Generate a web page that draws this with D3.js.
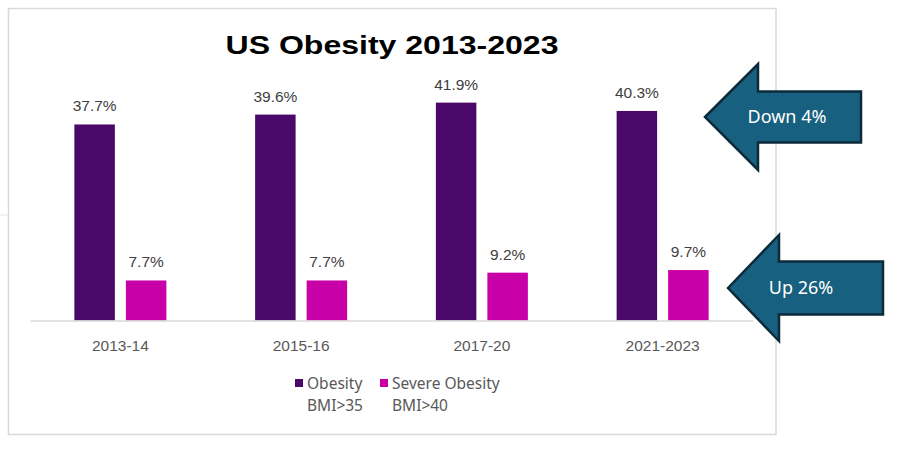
<!DOCTYPE html>
<html>
<head>
<meta charset="utf-8">
<script src="https://cdn.jsdelivr.net/npm/d3@7"></script>
<style>
  html, body { margin: 0; padding: 0; background: #fff; }
  svg { display: block; }
</style>
</head>
<body>
<svg id="chart"></svg>
<script>
// Data
const periods = ['2013-14', '2015-16', '2017-20', '2021-2023'];
const seriesNames = ['Obesity', 'Severe Obesity'];
const seriesSub = ['BMI>35', 'BMI>40'];
const obesity = [37.7, 39.6, 41.9, 40.3];
const severeObesity = [7.7, 7.7, 9.2, 9.7];
const callouts = ['Down 4%', 'Up 26%'];

const colors = ['#4b086b', '#c800a8'];
const width = 919, height = 451;

const svg = d3.select('#chart')
    .attr('width', width)
    .attr('height', height);

// chart frame
svg.append('rect')
    .attr('x', 8.5).attr('y', 8.5)
    .attr('width', 767.5).attr('height', 426)
    .attr('fill', 'none')
    .attr('stroke', '#d9d9d9')
    .attr('stroke-width', 1.5);

svg.append('line')
    .attr('x1', 0).attr('x2', 8)
    .attr('y1', 215).attr('y2', 215)
    .attr('stroke', '#e3e3e3')
    .attr('stroke-width', 1);

// Title
svg.append('text')
    .attr('x', 392).attr('y', 54)
    .attr('text-anchor', 'middle')
    .attr('font-family', 'Liberation Sans, Arial, sans-serif')
    .attr('font-weight', 'bold')
    .attr('font-size', 26.5)
    .attr('textLength', 333)
    .attr('lengthAdjust', 'spacingAndGlyphs')
    .attr('fill', '#000')
    .text('US Obesity 2013-2023');

// Scales
const x0 = d3.scaleBand()
    .domain(periods)
    .range([30, 753]);

const x1 = d3.scaleBand()
    .domain(seriesNames)
    .range([0, 92])
    .paddingInner(0.214);

const y = d3.scaleLinear()
    .domain([0, 45])
    .range([320.5, 86.5]);

const rows = periods.map((p, i) => ({
    period: p,
    values: [obesity[i], severeObesity[i]]
}));

const groups = svg.append('g')
    .selectAll('g')
    .data(rows)
    .join('g')
    .attr('transform', d => `translate(${x0(d.period) + (x0.bandwidth() - 92) / 2},0)`);

groups.selectAll('rect')
    .data(d => d.values.map((v, j) => ({ name: seriesNames[j], value: v, j })))
    .join('rect')
    .attr('x', d => x1(d.name))
    .attr('y', d => y(d.value))
    .attr('width', x1.bandwidth())
    .attr('height', d => y(0) - y(d.value))
    .attr('fill', d => colors[d.j]);

groups.selectAll('text')
    .data(d => d.values.map((v, j) => ({ name: seriesNames[j], value: v })))
    .join('text')
    .attr('x', d => x1(d.name) + x1.bandwidth() / 2)
    .attr('y', d => y(d.value) - 13)
    .attr('text-anchor', 'middle')
    .attr('font-family', 'Liberation Sans, Arial, sans-serif')
    .attr('font-size', 15.5)
    .attr('fill', '#404040')
    .text(d => d.value.toFixed(1) + '%');

// Axis
const xAxis = svg.append('g')
    .attr('transform', `translate(0,${y(0)})`)
    .call(d3.axisBottom(x0).tickSize(0).tickPadding(19));

xAxis.select('.domain')
    .attr('stroke', '#d9d9d9')
    .attr('stroke-width', 1.5);

xAxis.selectAll('text')
    .attr('font-family', 'Liberation Sans, Arial, sans-serif')
    .attr('font-size', 15.5)
    .attr('fill', '#595959');

// Legend
const legendX = [295, 380];
const legend = svg.append('g')
    .selectAll('g')
    .data(seriesNames)
    .join('g')
    .attr('transform', (d, i) => `translate(${legendX[i]},0)`);

legend.append('rect')
    .attr('x', 0).attr('y', 379)
    .attr('width', 8).attr('height', 8)
    .attr('fill', (d, i) => colors[i]);

legend.append('text')
    .attr('x', 12).attr('y', 388.5)
    .attr('font-family', 'Noto Sans, sans-serif')
    .attr('font-size', 15.5)
    .attr('fill', '#595959')
    .text(d => d);

legend.append('text')
    .attr('x', 12).attr('y', 410.5)
    .attr('font-family', 'Noto Sans, sans-serif')
    .attr('font-size', 15.5)
    .attr('fill', '#595959')
    .text((d, i) => seriesSub[i]);

// Callout arrows (left-pointing block arrows)
const arrowShapes = [
    { tip: [705, 117], headX: 758, headHalf: 53, shaftHalf: 25.5, right: 861, textX: 787 },
    { tip: [728, 288], headX: 779, headHalf: 53, shaftHalf: 26.5, right: 883, textX: 801 }
];

const arrows = svg.append('g')
    .selectAll('g')
    .data(arrowShapes)
    .join('g');

arrows.append('path')
    .attr('d', a => {
        const [tx, ty] = a.tip;
        return d3.line()([
            [tx, ty],
            [a.headX, ty - a.headHalf],
            [a.headX, ty - a.shaftHalf],
            [a.right, ty - a.shaftHalf],
            [a.right, ty + a.shaftHalf],
            [a.headX, ty + a.shaftHalf],
            [a.headX, ty + a.headHalf]
        ]) + 'Z';
    })
    .attr('fill', '#17607f')
    .attr('stroke', '#0d2a3b')
    .attr('stroke-width', 2.5)
    .attr('stroke-linejoin', 'miter');

arrows.append('text')
    .attr('x', a => a.textX)
    .attr('y', a => a.tip[1] + 6)
    .attr('text-anchor', 'middle')
    .attr('font-family', 'Noto Sans, sans-serif')
    .attr('font-size', 18)
    .attr('fill', '#fff')
    .text((a, i) => callouts[i]);
</script>
</body>
</html>
